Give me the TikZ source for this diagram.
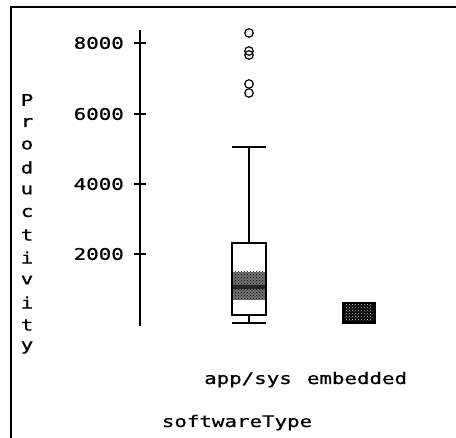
\documentclass[tikz,border=0pt]{standalone}
\usepackage{fontspec}
\newfontfamily\pixfont[FakeStretch=1.3,FakeBold=0.8]{DejaVu Sans Mono}
\usetikzlibrary{patterns}
\tikzset{
  lbl/.style={font=\pixfont\fontsize{16}{16}\selectfont, inner sep=0pt},
  axisline/.style={line width=1.8pt},
  thin/.style={line width=1.1pt},
  outl/.style={line width=1.2pt, draw, circle, minimum size=8.5pt, inner sep=0pt},
}
\begin{document}
\begin{tikzpicture}[x=1pt,y=-1pt]
\useasboundingbox (0,0) rectangle (456,438);
\fill[white] (0,0) rectangle (456,438);
% frame
\draw[line width=1.3pt] (11,438) -- (11,7) -- (456,7);
% axis
\coordinate (atop) at (140,30);
\coordinate (abot) at (140,326);
\draw[axisline] (atop) -- (abot);
\foreach \v/\y in {8000/43,6000/114,4000/184,2000/254}{
  \coordinate (t\v) at (140,\y);
  \draw[thin] ([xshift=-6pt]t\v) -- ([xshift=6pt]t\v);
  \node[lbl, anchor=east] (l\v) at (124,\y) {\v};
}
% y label
\foreach \c [count=\i] in {P,r,o,d,u,c,t,i,v,i,t,y}{
  \node[lbl] (y\i) at (27,{100+(\i-1)*22.5}) {\c};
}
% app/sys box
\coordinate (wtop) at (249,147);
\coordinate (wbot) at (249,323);
\draw[thin] (232,147) -- (266,147);
\draw[thin] (wtop) -- (249,243);
\draw[thin] (249,315) -- (wbot);
\draw[thin] (232,323) -- (266,323);
\fill[black!55] (232,272) rectangle (266,300);
\fill[pattern=crosshatch dots, pattern color=black] (232,272) rectangle (266,300);
\fill[black!85] (232,285) rectangle (266,289);
\draw[thin] (232,243) rectangle (266,315);
% outliers
\node[outl] (o1) at (249,33) {};
\node[outl] (o2) at (249,51) {};
\node[outl] (o3) at (249,55) {};
\node[outl] (o4) at (249,84) {};
\node[outl] (o5) at (249,93) {};
% embedded box
\fill[black] (342,302) rectangle (376,324);
\fill[pattern=crosshatch dots, pattern color=white!80!black] (345,305) rectangle (373,321);
% labels
\node[lbl, anchor=base] (app) at (248,384) {app/sys};
\node[lbl, anchor=base] (emb) at (357,384) {embedded};
\node[lbl, anchor=base] (sw) at (237,427) {softwareType};
\end{tikzpicture}
\end{document}
